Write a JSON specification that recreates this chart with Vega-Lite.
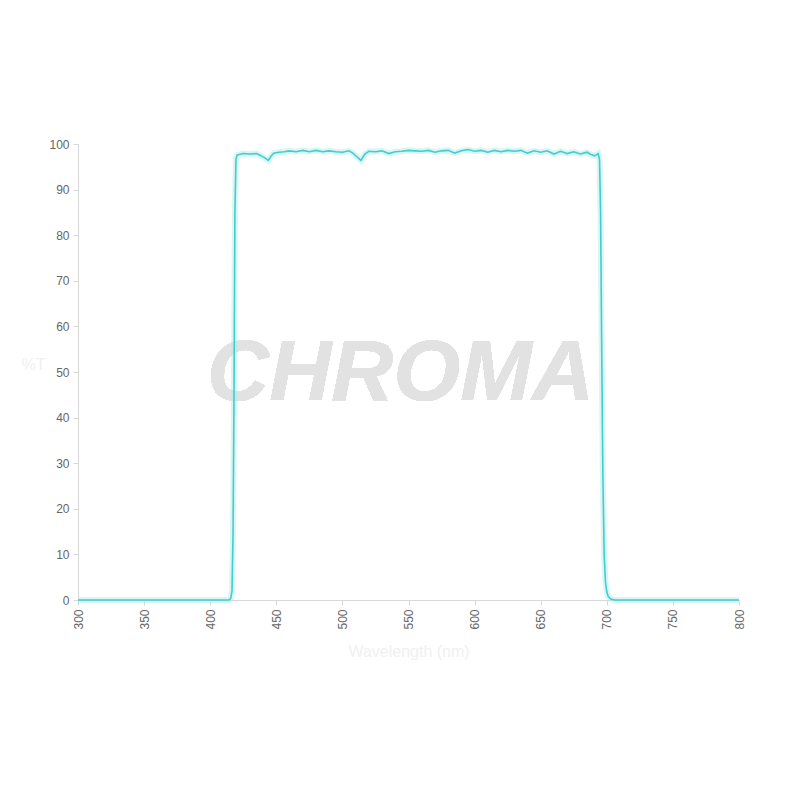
{
  "$schema": "https://vega.github.io/schema/vega-lite/v6.json",
  "autosize": "none",
  "width": 661,
  "height": 456,
  "padding": {"left": 78, "top": 144, "right": 61, "bottom": 200},
  "background": "white",
  "config": {
    "view": {"stroke": null},
    "font": "Liberation Sans",
    "axis": {
      "labelColor": "#666666",
      "labelFontSize": 12,
      "gridColor": "#e3e3e3",
      "domainColor": "#d8d8d8",
      "tickColor": "#d8d8d8",
      "tickSize": 5,
      "titleColor": "#f0f0f0",
      "titleFontWeight": "normal"
    }
  },
  "data": {
    "values": [
      {"nm": 300, "t": 0}, {"nm": 350, "t": 0}, {"nm": 400, "t": 0}, {"nm": 414, "t": 0},
      {"nm": 415.5, "t": 0.3}, {"nm": 416.5, "t": 2}, {"nm": 417.3, "t": 15}, {"nm": 418, "t": 45},
      {"nm": 418.7, "t": 85}, {"nm": 419.5, "t": 96.8}, {"nm": 420.5, "t": 97.6},
      {"nm": 425, "t": 97.9}, {"nm": 430, "t": 97.8}, {"nm": 435, "t": 97.9}, {"nm": 438, "t": 97.5},
      {"nm": 441, "t": 97.0}, {"nm": 444, "t": 96.4}, {"nm": 446, "t": 97.3}, {"nm": 448, "t": 98.0},
      {"nm": 452, "t": 98.2}, {"nm": 456, "t": 98.3}, {"nm": 460, "t": 98.5}, {"nm": 465, "t": 98.3},
      {"nm": 470, "t": 98.6}, {"nm": 475, "t": 98.3}, {"nm": 480, "t": 98.6}, {"nm": 485, "t": 98.3},
      {"nm": 490, "t": 98.5}, {"nm": 495, "t": 98.3}, {"nm": 500, "t": 98.2}, {"nm": 505, "t": 98.5},
      {"nm": 508, "t": 98.0}, {"nm": 511, "t": 97.2}, {"nm": 514, "t": 96.4}, {"nm": 517, "t": 97.8},
      {"nm": 520, "t": 98.4}, {"nm": 525, "t": 98.3}, {"nm": 530, "t": 98.5}, {"nm": 535, "t": 97.9},
      {"nm": 540, "t": 98.3}, {"nm": 545, "t": 98.4}, {"nm": 550, "t": 98.6}, {"nm": 555, "t": 98.5},
      {"nm": 560, "t": 98.4}, {"nm": 565, "t": 98.6}, {"nm": 570, "t": 98.2}, {"nm": 575, "t": 98.5},
      {"nm": 580, "t": 98.6}, {"nm": 585, "t": 98.0}, {"nm": 590, "t": 98.5}, {"nm": 595, "t": 98.8},
      {"nm": 600, "t": 98.4}, {"nm": 605, "t": 98.6}, {"nm": 610, "t": 98.2}, {"nm": 615, "t": 98.6},
      {"nm": 620, "t": 98.3}, {"nm": 625, "t": 98.6}, {"nm": 630, "t": 98.4}, {"nm": 635, "t": 98.6},
      {"nm": 640, "t": 98.0}, {"nm": 645, "t": 98.5}, {"nm": 650, "t": 98.2}, {"nm": 655, "t": 98.5},
      {"nm": 660, "t": 97.8}, {"nm": 665, "t": 98.4}, {"nm": 670, "t": 97.9}, {"nm": 675, "t": 98.3},
      {"nm": 680, "t": 97.8}, {"nm": 685, "t": 98.2}, {"nm": 688, "t": 97.7}, {"nm": 691, "t": 97.4},
      {"nm": 693.5, "t": 97.9}, {"nm": 694.5, "t": 96.5}, {"nm": 695.3, "t": 85}, {"nm": 696, "t": 60},
      {"nm": 697, "t": 28}, {"nm": 698, "t": 10}, {"nm": 699, "t": 4}, {"nm": 700, "t": 1.8},
      {"nm": 701, "t": 0.8}, {"nm": 703, "t": 0.2}, {"nm": 706, "t": 0}, {"nm": 750, "t": 0},
      {"nm": 800, "t": 0}
    ]
  },
  "layer": [
    {
      "mark": {"type": "text", "text": "CHROMA", "fontSize": 86, "fontWeight": "bold", "fontStyle": "italic", "color": "#e2e2e2", "font": "Liberation Sans"},
      "encoding": {
        "x": {"datum": 544, "type": "quantitative"},
        "y": {"datum": 49.5, "type": "quantitative"}
      }
    },
    {
      "mark": {"type": "line", "color": "#a8ecec", "strokeWidth": 6, "opacity": 0.45, "interpolate": "linear"},
      "encoding": {
        "x": {"field": "nm", "type": "quantitative"},
        "y": {"field": "t", "type": "quantitative"}
      }
    },
    {
      "mark": {"type": "line", "color": "#45cccc", "strokeWidth": 1.6, "interpolate": "linear"},
      "encoding": {
        "x": {
          "field": "nm", "type": "quantitative",
          "scale": {"domain": [300, 800], "nice": false, "zero": false},
          "axis": {"values": [300, 350, 400, 450, 500, 550, 600, 650, 700, 750, 800], "labelAngle": -90, "labelPadding": 4, "title": "Wavelength (nm)", "titleFontSize": 16, "titlePadding": 14}
        },
        "y": {
          "field": "t", "type": "quantitative",
          "scale": {"domain": [0, 100], "nice": false},
          "axis": {"values": [0, 10, 20, 30, 40, 50, 60, 70, 80, 90, 100], "labelPadding": 4, "title": "%T", "titleAngle": 0, "titleFontSize": 16, "titlePadding": 16}
        }
      }
    }
  ]
}
